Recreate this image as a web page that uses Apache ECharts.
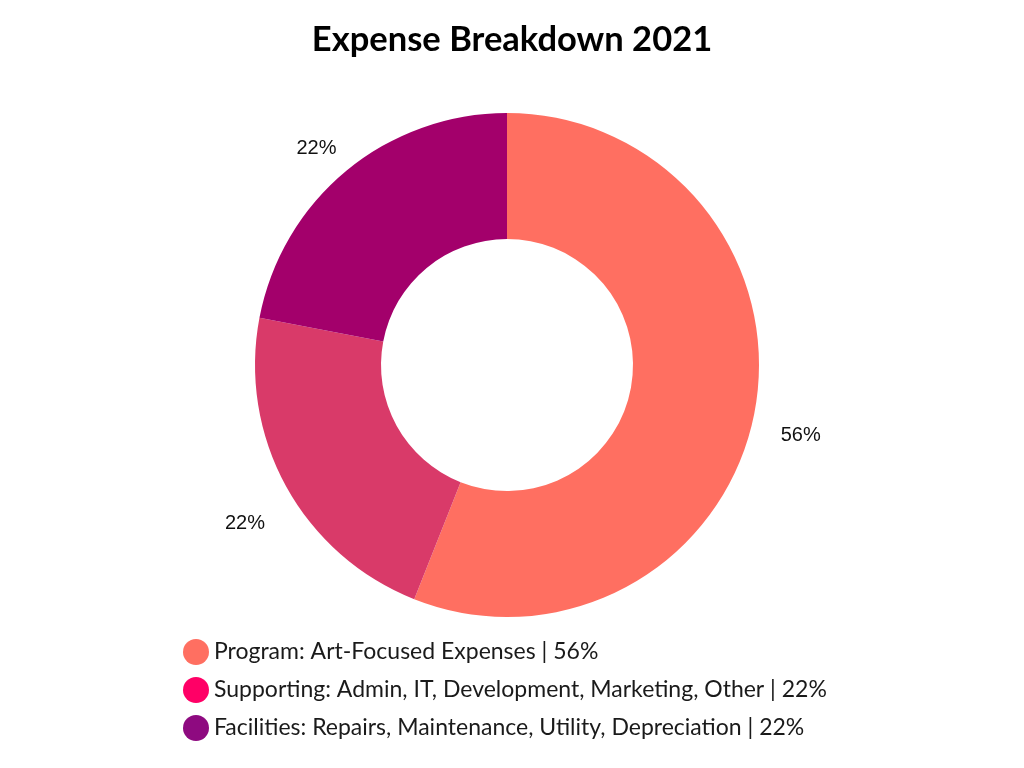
<!DOCTYPE html>
<html>
<head>
<meta charset="utf-8">
<script src="https://cdn.jsdelivr.net/npm/echarts@6/dist/echarts.min.js"></script>
<style>
html,body{margin:0;padding:0;background:#fff;}
#chart{width:1024px;height:768px;}
</style>
</head>
<body>
<div id="chart"></div>
<script>
const titleText = 'Expense Breakdown 2021';
const categories = [
  'Program: Art-Focused Expenses | 56%',
  'Supporting: Admin, IT, Development, Marketing, Other | 22%',
  'Facilities: Repairs, Maintenance, Utility, Depreciation | 22%'
];
const values = [56, 22, 22];
const sliceColors = ['#FF6F61', '#D93A69', '#A3006B'];
const legendColors = ['#FF6F61', '#FF0066', '#8E0A80'];

const chart = echarts.init(document.getElementById('chart'));
const pieData = categories.map((c, i) => ({ name: c, value: values[i] }));

chart.setOption({
  backgroundColor: '#ffffff',
  animation: false,
  title: {
    text: titleText,
    left: 'center',
    top: 17,
    textStyle: { fontFamily: 'Lato', fontWeight: 'bold', fontSize: 34.5, color: '#000' }
  },
  legend: {
    orient: 'vertical',
    left: 183,
    top: 639,
    padding: 0,
    icon: 'circle',
    itemWidth: 26,
    itemHeight: 26,
    itemGap: 12,
    textStyle: { fontFamily: 'Lato', fontSize: 23, color: '#1a1a1a' },
    data: categories.map((c, i) => ({ name: c, itemStyle: { color: legendColors[i] } }))
  },
  color: sliceColors,
  series: [
    {
      type: 'pie',
      center: [507, 365],
      radius: [126, 252],
      startAngle: 90,
      clockwise: true,
      label: { show: false },
      labelLine: { show: false },
      emphasis: { disabled: true },
      data: pieData
    },
    {
      type: 'pie',
      center: [507, 379],
      radius: [286, 306],
      startAngle: 90,
      clockwise: true,
      silent: true,
      itemStyle: { color: 'rgba(0,0,0,0)' },
      label: {
        show: true,
        position: 'inside',
        formatter: p => p.value + '%',
        fontFamily: 'Liberation Sans',
        fontSize: 20,
        color: '#111'
      },
      labelLine: { show: false },
      data: pieData
    }
  ]
});
</script>
</body>
</html>
